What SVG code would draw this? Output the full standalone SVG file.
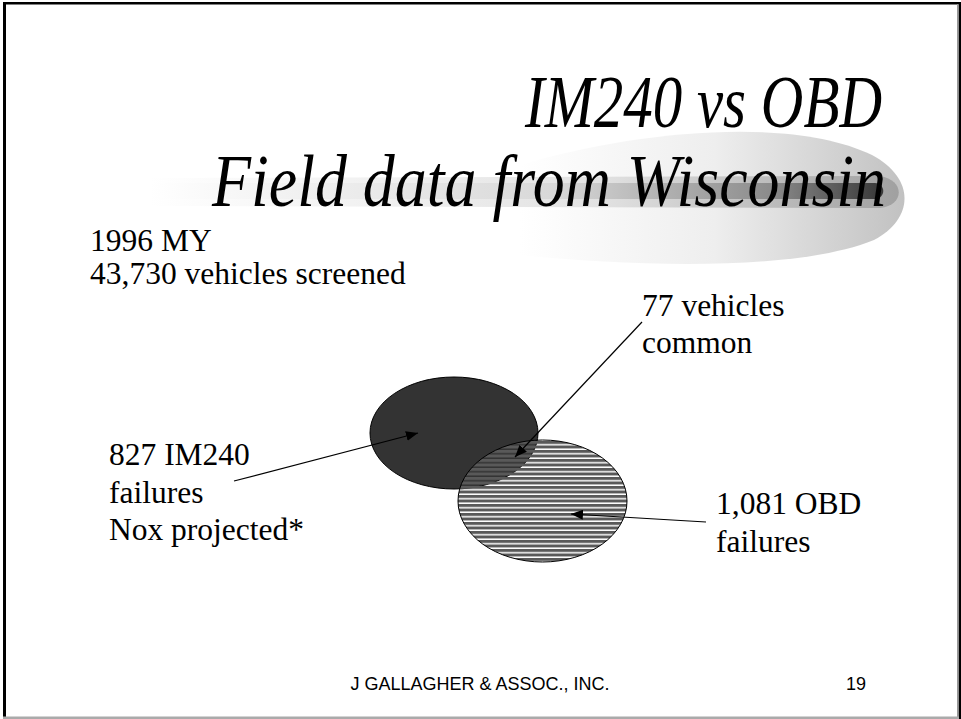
<svg xmlns="http://www.w3.org/2000/svg" width="961" height="719" viewBox="0 0 961 719">
<defs>
<style>
.t{font-family:"Liberation Serif","Times New Roman",serif;font-size:31.5px;fill:#000}
.title{font-family:"Liberation Serif","Times New Roman",serif;font-style:italic;font-size:74px;fill:#000}
.foot{font-family:"Liberation Sans",Arial,sans-serif;font-size:18px;fill:#000}
.conn{stroke:#000;stroke-width:1.2;fill:none}
</style>
<marker id="ah" viewBox="0 0 12 10" refX="12" refY="5" markerWidth="12" markerHeight="10" markerUnits="userSpaceOnUse" orient="auto">
<path d="M0,0 L12,5 L0,10 Z" fill="#000"/>
</marker>
<pattern id="hatch" width="8" height="4.5" patternUnits="userSpaceOnUse">
<rect x="0" y="0" width="8" height="3" fill="#595959"/>
</pattern>
<linearGradient id="g1" x1="520" y1="0" x2="910" y2="0" gradientUnits="userSpaceOnUse">
<stop offset="0" stop-color="#ffffff"/>
<stop offset="0.5" stop-color="#eeeeee"/>
<stop offset="1" stop-color="#c0c0c0"/>
</linearGradient>
<linearGradient id="g2" x1="150" y1="0" x2="900" y2="0" gradientUnits="userSpaceOnUse">
<stop offset="0" stop-color="#ffffff"/>
<stop offset="0.6" stop-color="#e2e2e2"/>
<stop offset="1" stop-color="#a0a0a0"/>
</linearGradient>
<linearGradient id="g3" x1="150" y1="0" x2="885" y2="0" gradientUnits="userSpaceOnUse">
<stop offset="0" stop-color="#ffffff"/>
<stop offset="0.55" stop-color="#d8d8d8"/>
<stop offset="0.85" stop-color="#8a8a8a"/>
<stop offset="1" stop-color="#363636"/>
</linearGradient>
</defs>
<rect x="0" y="0" width="961" height="719" fill="#fff"/>
<g id="frame">
<rect x="3" y="2" width="3" height="716" fill="#000"/>
<rect x="3" y="2" width="958" height="2.5" fill="#000"/>
<rect x="958.5" y="2" width="2.5" height="717" fill="#000"/>
<rect x="957" y="4" width="1.5" height="714" fill="#999"/>
<rect x="3" y="716.5" width="956" height="2.5" fill="#aaa"/>
</g>
<g id="swoosh">
<path d="M520 165 C 630 132, 790 115, 872 155 C 915 178, 915 218, 874 240 C 800 270, 650 268, 520 255 Z" fill="url(#g1)"/>
<path d="M150 178 L 880 176 C 905 180, 905 205, 880 208 L 150 206 Z" fill="url(#g2)"/>
<path d="M150 183 L 875 183 C 886 184, 886 198, 875 199 L 150 199 Z" fill="url(#g3)"/>
</g>
<g id="title">
<text class="title" x="525" y="127" textLength="357" lengthAdjust="spacingAndGlyphs">IM240 vs OBD</text>
<text class="title" x="212" y="206" textLength="674" lengthAdjust="spacingAndGlyphs">Field data from Wisconsin</text>
</g>
<g id="info">
<text class="t" x="90" y="251">1996 MY</text>
<text class="t" x="90" y="284">43,730 vehicles screened</text>
</g>
<g id="im240">
<ellipse cx="454" cy="433" rx="84" ry="56" fill="#333" stroke="#000" stroke-width="1"/>
</g>
<g id="obd">
<ellipse cx="542.5" cy="501" rx="84.5" ry="61" fill="url(#hatch)" stroke="#000" stroke-width="1"/>
</g>
<g id="label-im240">
<text class="t" x="109" y="465">827 IM240</text>
<text class="t" x="109" y="503">failures</text>
<text class="t" x="109" y="540">Nox projected*</text>
</g>
<g id="label-common">
<text class="t" x="642" y="316">77 vehicles</text>
<text class="t" x="642" y="353">common</text>
</g>
<g id="label-obd">
<text class="t" x="716" y="514">1,081 OBD</text>
<text class="t" x="716" y="552">failures</text>
</g>
<g id="connectors">
<line class="conn" x1="234" y1="481" x2="418" y2="433" marker-end="url(#ah)"/>
<line class="conn" x1="642" y1="322" x2="515" y2="457" marker-end="url(#ah)"/>
<line class="conn" x1="706" y1="522" x2="571" y2="514" marker-end="url(#ah)"/>
</g>
<g id="footer">
<text class="foot" x="480" y="690" text-anchor="middle">J GALLAGHER &amp; ASSOC., INC.</text>
<text class="foot" x="856" y="690" text-anchor="middle">19</text>
</g>
</svg>
